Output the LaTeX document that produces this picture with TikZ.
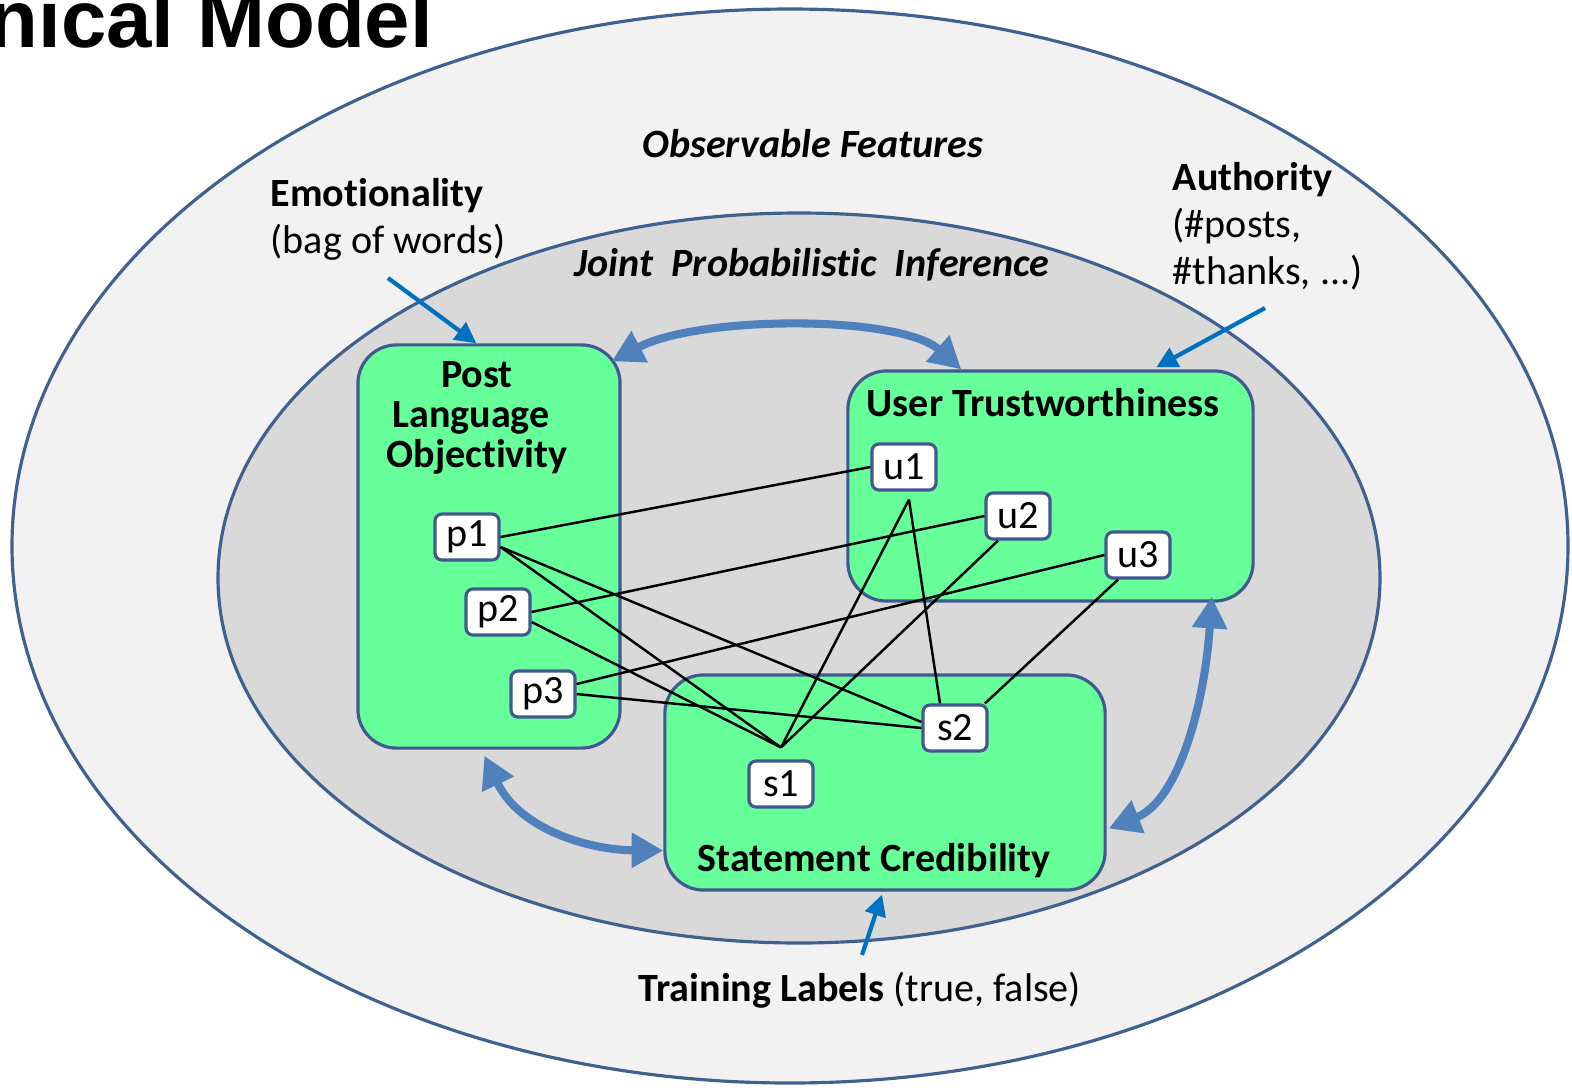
\documentclass[tikz,border=0pt]{standalone}
\usepackage{fontspec}
\setmainfont{Carlito}[RawFeature=-liga]
\newfontfamily\titlefont{Liberation Sans}
\usetikzlibrary{arrows.meta,calc}
\definecolor{outerfill}{HTML}{F2F2F2}
\definecolor{innerfill}{HTML}{D9D9D9}
\definecolor{rimblue}{HTML}{3F6190}
\definecolor{boxgreen}{HTML}{66FF99}
\definecolor{boxrim}{HTML}{41598F}
\definecolor{bigarrow}{HTML}{4F81BD}
\definecolor{smallarrow}{HTML}{0070C0}
\begin{document}
\begin{tikzpicture}[x=0.01cm,y=-0.01cm,
 region/.style={draw=boxrim,line width=0.9pt,fill=boxgreen,rounded corners=11pt,inner sep=0pt},
 var/.style={draw=boxrim,line width=0.9pt,fill=white,rounded corners=2pt,minimum width=0.64cm,minimum height=0.46cm,inner sep=0pt},
 link/.style={line width=0.7pt,draw=black},
 coupling/.style={draw=bigarrow,line width=2.3pt,{Triangle[length=9pt,width=9.5pt]}-{Triangle[length=9pt,width=9.5pt]}},
 feed/.style={draw=smallarrow,line width=1.2pt,-{Triangle[length=6pt,width=6pt]}},
 lbl/.style={inner sep=0pt,anchor=base west},
 clbl/.style={inner sep=0pt,anchor=base},
]
\fontsize{11.4}{13.4}\selectfont
\useasboundingbox (0,0) rectangle (1572,1087);
\fill[white] (0,0) rectangle (1572,1087);
% ellipses
\draw[rimblue,line width=0.9pt,fill=outerfill] (790,546) ellipse [x radius=778,y radius=537];
\draw[rimblue,line width=0.9pt,fill=innerfill] (799,578) ellipse [x radius=581,y radius=365];
% title
\node[lbl] (title) at (-12,47) {\titlefont\fontsize{23.2}{26}\selectfont\bfseries nical Model};
% labels
\node[clbl] (obs) at (813,157) {\bfseries\itshape Observable Features};
\node[clbl] (jpi) at (812,276) {\bfseries\itshape Joint\ \ Probabilistic\ \ Inference};
\node[lbl] (emo) at (270,206) {\bfseries Emotionality};
\node[lbl] (bag) at (270,253) {(bag of words)};
\node[lbl] (auth) at (1172,190) {\bfseries Authority};
\node[lbl] (auth2) at (1172,237) {(\#posts,};
\node[lbl] (auth3) at (1172,284) {\#thanks, ...)};
\node[lbl] (train) at (638,1001) {\textbf{Training Labels} (true, false)};
% regions
\node[region,minimum width=2.62cm,minimum height=4.03cm] (post) at (489,546.5) {};
\node[region,minimum width=4.05cm,minimum height=2.30cm] (user) at (1050.5,486) {};
\node[region,minimum width=4.40cm,minimum height=2.15cm] (stmt) at (885,782.5) {};
\node[clbl] (postl1) at (477,387) {\bfseries Post};
\node[clbl] (postl2) at (471,427) {\bfseries Language};
\node[clbl] (postl3) at (477,467) {\bfseries Objectivity};
\node[lbl] (userl) at (866,416) {\bfseries User Trustworthiness};
\node[lbl] (stmtl) at (697,871) {\bfseries Statement Credibility};
% variables
\node[var] (p1) at (467,537) {p1};
\node[var] (p2) at (498,612) {p2};
\node[var] (p3) at (543,694) {p3};
\node[var] (u1) at (904,467) {u1};
\node[var] (u2) at (1018,516) {u2};
\node[var] (u3) at (1138,555) {u3};
\node[var] (s1) at (781,784) {s1};
\node[var] (s2) at (955,728) {s2};
\coordinate (s1top) at ($(s1.north)+(0,-12)$);
% links
\draw[link] (p1.east) -- (u1.west);
\draw[link] ($(p1.east)+(0,10)$) -- (s1top);
\draw[link] ($(p1.east)+(0,10)$) -- ($(s2.west)+(0,-6)$);
\draw[link] (p2.east) -- (u2.west);
\draw[link] ($(p2.east)+(0,10)$) -- (s1top);
\draw[link] ($(p3.east)+(0,-10)$) -- (u3.west);
\draw[link] (p3.east) -- (s2.west);
\draw[link] ($(u1.south)+(5,8)$) -- (s1top);
\draw[link] ($(u1.south)+(5,8)$) -- ($(s2.north)+(-15,0)$);
\draw[link] ($(u2.south)+(-20,0)$) -- (s1top);
\draw[link] ($(u3.south)+(-20,0)$) -- ($(s2.north)+(30,0)$);
% couplings
\draw[coupling] ($(post.north east)+(-10,18)$) .. controls (700,315) and (900,315) .. ($(user.north west)+(115,0)$);
\draw[coupling] ($(post.south west)+(128,6)$) .. controls (520,830) and (590,850) .. ($(stmt.west)+(0,68)$);
\draw[coupling] ($(user.south east)+(-43,-6)$) .. controls (1205,700) and (1180,800) .. ($(stmt.east)+(2,46)$);
% feeds
\coordinate (emoarrow) at (388,278);
\coordinate (autharrow) at (1265,308);
\coordinate (trainarrow) at (862,955);
\draw[feed] (emoarrow) -- ($(post.north west)+(120,0)$);
\draw[feed] (autharrow) -- ($(user.north west)+(310,-2)$);
\draw[feed] (trainarrow) -- ($(stmt.south)+(-3,3)$);
\end{tikzpicture}
\end{document}
